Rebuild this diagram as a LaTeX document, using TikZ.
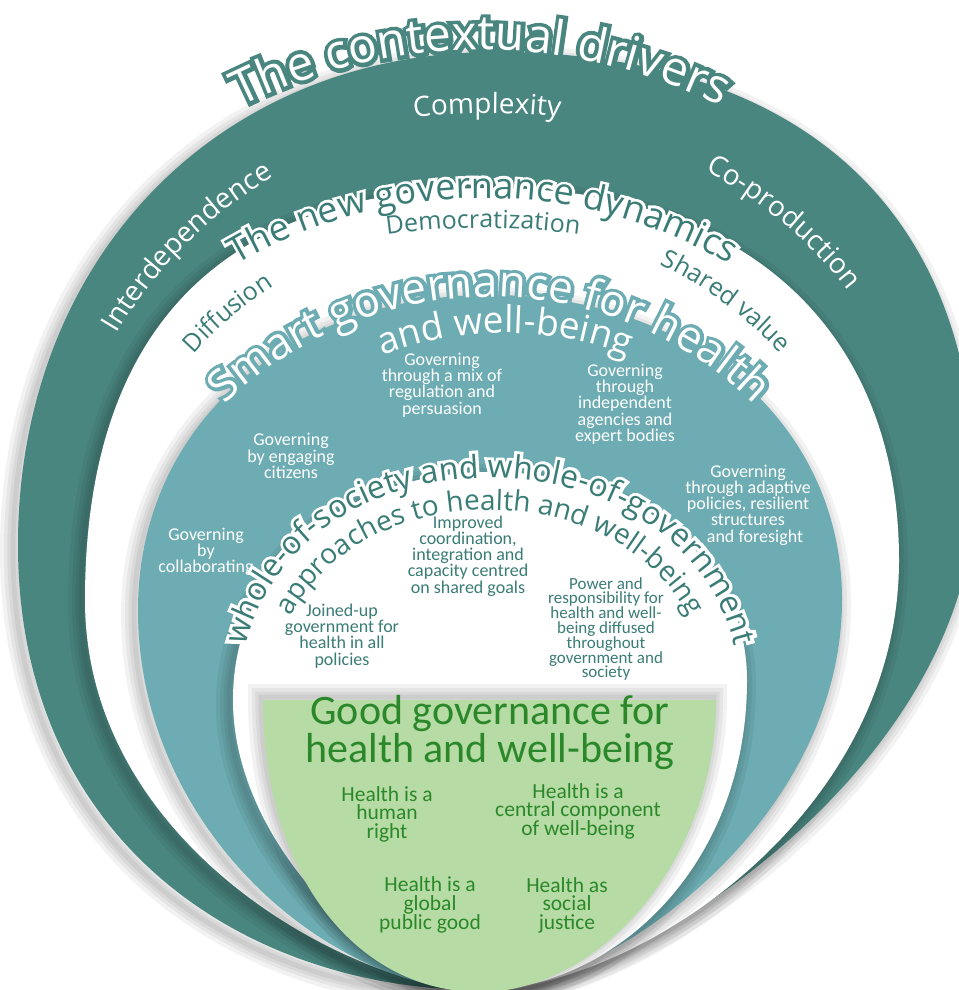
\documentclass[tikz,border=0pt]{standalone}
\usepackage{fontspec}
\usetikzlibrary{decorations.text}
\newfontfamily\osans{Open Sans}
\newfontfamily\osansH[FakeBold=17]{Open Sans}
\newfontfamily\osansHH[FakeBold=21]{Open Sans}
\newfontfamily\carl{Carlito}
\definecolor{dteal}{RGB}{74,134,128}
\definecolor{lteal}{RGB}{108,172,178}
\definecolor{tteal}{RGB}{58,124,118}
\definecolor{gfill}{RGB}{183,219,164}
\definecolor{gtext}{RGB}{42,136,42}

\newcommand\fTa{\osans\fontsize{48}{48}\selectfont}
\newcommand\hTa{\osansH\fontsize{48}{48}\selectfont}
\newcommand\fTb{\osans\fontsize{36}{36}\selectfont}
\newcommand\hTb{\osansH\fontsize{36}{36}\selectfont}
\newcommand\fTc{\osans\fontsize{44}{44}\selectfont}
\newcommand\hTc{\osansH\fontsize{44}{44}\selectfont}
\newcommand\fTcc{\osans\fontsize{37}{37}\selectfont}
\newcommand\hTcc{\osansH\fontsize{37}{37}\selectfont}
\newcommand\fTd{\osans\fontsize{32}{32}\selectfont}
\newcommand\hTd{\osansHH\fontsize{32}{32}\selectfont}
\newcommand\fTdd{\osans\fontsize{28}{28}\selectfont}
\newcommand\hTdd{\osansHH\fontsize{28}{28}\selectfont}
\newcommand\fLa{\osans\fontsize{28}{28}\selectfont}
\newcommand\fLb{\osans\fontsize{25}{25}\selectfont}

% #1 path, #2 font, #3 halo font, #4 text colour, #5 halo colour, #6 text
\newcommand\halotext[6]{%
  \path[decorate, decoration={text along path, text align=center, text={|#3\color{#5}|#6}}] #1;%
  \path[decorate, decoration={text along path, text align=center, text={|#2\color{#4}|#6}}] #1;}
% #1 path, #2 font, #3 colour, #4 text
\newcommand\arctext[4]{%
  \path[decorate, decoration={text along path, text align=center, text={|#2\color{#3}|#4}}] #1;}
% #1 colour, #2 path, #3 shadow shift
\newcommand\layer[3]{%
  \foreach \sw in {26,18,11,5}{\draw[black, opacity=.05, line width=\sw pt, shift={#3}] #2;}%
  \fill[#1] #2;}

\def\pathA{(480,990) .. controls (250,990) and (18,845) .. (18,545) .. controls (18,259) and (218,52) .. (495,52) .. controls (800,52) and (975,210) .. (975,490) .. controls (975,760) and (640,990) .. (480,990) -- cycle}
\def\pathB{(480,990) .. controls (360,990) and (85,850) .. (85,600) .. controls (85,328) and (223,188) .. (492,188) .. controls (744,188) and (899,329) .. (899,560) .. controls (899,820) and (630,990) .. (480,990) -- cycle}
\def\pathC{(480,990) .. controls (330,990) and (138,830) .. (138,610) .. controls (138,427) and (286,295) .. (490,295) .. controls (694,295) and (842,425) .. (842,600) .. controls (842,820) and (610,990) .. (480,990) -- cycle}
\def\pathD{(480,990) .. controls (390,990) and (233,850) .. (233,700) .. controls (233,568) and (341,472) .. (490,472) .. controls (639,472) and (747,559) .. (747,680) .. controls (747,870) and (610,990) .. (480,990) -- cycle}
\def\pathG{(263,700) -- (716,700) .. controls (716,860) and (600,992) .. (480,992) .. controls (360,992) and (263,880) .. (263,700) -- cycle}

\tikzset{
  tblock/.style={align=center, inner sep=0pt, text=white, font=\carl\fontsize{18}{16.3}\selectfont},
  iblock/.style={align=center, inner sep=0pt, text=tteal, font=\carl\fontsize{18}{16.2}\selectfont},
  pblock/.style={align=center, inner sep=0pt, text=tteal, font=\carl\fontsize{17}{14.8}\selectfont},
  gblock/.style={align=center, inner sep=0pt, text=gtext, font=\carl\fontsize{21.5}{18.5}\selectfont},
  gtitle/.style={align=center, inner sep=0pt, text=gtext, font=\carl\fontsize{42}{38}\selectfont},
}

\begin{document}
\begin{tikzpicture}[x=1pt, y=-1pt]
\useasboundingbox (0,0) rectangle (958,990);
\fill[white] (0,0) rectangle (958,990);

% nested layers
\layer{dteal}{\pathA}{(-5,6)}
\layer{white}{\pathB}{(-4,5)}
\layer{lteal}{\pathC}{(-4,5)}
\layer{white}{\pathD}{(-4,5)}
\layer{gfill}{\pathG}{(-2,-3)}

% outer band: the contextual drivers
\halotext{([shift={(230:538)}]481,588) arc[start angle=230, end angle=310, radius=538]}{\fTa}{\hTa}{white}{dteal}{The contextual drivers}
\arctext{([shift={(250:600)}]487,713) arc[start angle=250, end angle=290, radius=600]}{\fLa}{white}{Complexity}
\arctext{([shift={(195:445)}]500,560) arc[start angle=195, end angle=255, radius=445]}{\fLa}{white}{Interdependence}
\arctext{([shift={(280:440)}]500,560) arc[start angle=280, end angle=340, radius=440]}{\fLa}{white}{Co-production}

% second band: new governance dynamics
\halotext{([shift={(225:490)}]483,688) arc[start angle=225, end angle=315, radius=490]}{\fTb}{\hTb}{tteal}{white}{The new governance dynamics}
\arctext{([shift={(255:700)}]483,928) arc[start angle=255, end angle=285, radius=700]}{\fLb}{tteal}{Democratization}
\arctext{([shift={(205:398)}]490,620) arc[start angle=205, end angle=254, radius=398]}{\fLb}{tteal}{Diffusion}
\arctext{([shift={(281.5:394)}]490,620) arc[start angle=281.5, end angle=331.5, radius=394]}{\fLb}{tteal}{Shared value}

% third band: smart governance
\halotext{([shift={(210:380)}]490,677) arc[start angle=210, end angle=330, radius=380]}{\fTc}{\hTc}{white}{lteal}{Smart governance for health}
\halotext{([shift={(230:340)}]505,673) arc[start angle=230, end angle=310, radius=340]}{\fTcc}{\hTcc}{white}{lteal}{and well-being}

\node[tblock] (regmix) at (442,385) {Governing\\through a mix of\\regulation and\\persuasion};
\node[tblock] (indep) at (625,404) {Governing\\through\\independent\\agencies and\\expert bodies};
\node[tblock] (engage) at (291,456) {Governing\\by engaging\\citizens};
\node[tblock] (adapt) at (748,505) {Governing\\through adaptive\\policies, resilient\\structures\\\hspace*{14pt}and foresight};
\node[tblock] (collab) at (206,552) {Governing\\by\\collaborating};

% fourth band: whole-of-society
\halotext{(239,700) .. controls (239,571) and (344,478) .. (490,478) .. controls (636,478) and (741,571) .. (741,700)}{\fTd}{\hTd}{tteal}{white}{whole-of-society and whole-of-government}
\halotext{(271,700) .. controls (271,590) and (363,510) .. (490,510) .. controls (617,510) and (709,590) .. (709,700)}{\fTdd}{\hTdd}{tteal}{white}{approaches to health and well-being}

\node[iblock] (improved) at (468,556) {Improved\\coordination,\\integration and\\capacity centred\\on shared goals};
\node[iblock] (joined) at (342,636) {Joined-up\\government for\\health in all\\policies};
\node[pblock] (power) at (606,629) {Power and\\responsibility for\\health and well-\\being diffused\\throughout\\government and\\society};

% core
\node[gtitle] (good) at (490,733) {Good governance for\\health and well-being};
\node[gblock] (human) at (387,814) {Health is a\\human\\right};
\node[gblock] (central) at (578,811) {Health is a\\central component\\of well-being};
\node[gblock] (global) at (430,905) {Health is a\\global\\public good};
\node[gblock] (social) at (567,905) {Health as\\social\\justice};
\end{tikzpicture}
\end{document}
